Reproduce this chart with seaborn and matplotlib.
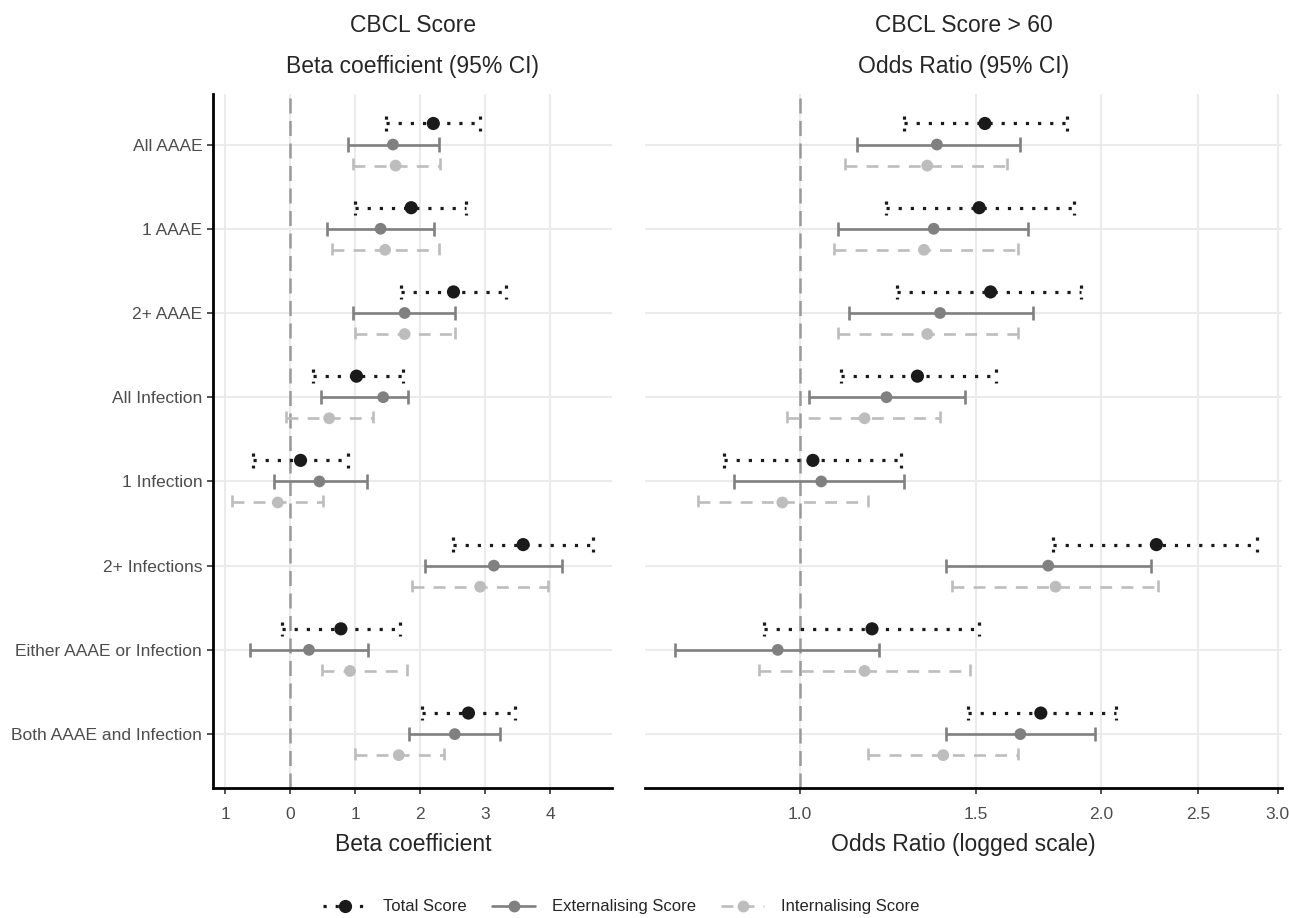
import numpy as np
import pandas as pd
import seaborn as sns
from matplotlib import pyplot as plt
from matplotlib.lines import Line2D

# categories (top to bottom)
categories = ["All AAAE", "1 AAAE", "2+ AAAE", "All Infection", "1 Infection",
              "2+ Infections", "Either AAAE or Infection", "Both AAAE and Infection"]
scores = ["Total Score", "Externalising Score", "Internalising Score"]

# left panel: beta coefficients (95% CI)
beta_total = [2.20, 1.86, 2.51, 1.02, 0.16, 3.58, 0.78, 2.74]
beta_total_lo = [1.48, 0.99, 1.71, 0.35, -0.57, 2.50, -0.13, 2.03]
beta_total_hi = [2.92, 2.71, 3.31, 1.73, 0.89, 4.66, 1.69, 3.45]
beta_ext = [1.58, 1.39, 1.76, 1.43, 0.45, 3.13, 0.29, 2.53]
beta_ext_lo = [0.89, 0.56, 0.96, 0.47, -0.25, 2.08, -0.61, 1.82]
beta_ext_hi = [2.28, 2.21, 2.54, 1.81, 1.18, 4.18, 1.20, 3.22]
beta_int = [1.62, 1.46, 1.76, 0.60, -0.19, 2.92, 0.92, 1.67]
beta_int_lo = [0.96, 0.65, 1.00, -0.07, -0.89, 1.88, 0.49, 0.99]
beta_int_hi = [2.30, 2.29, 2.54, 1.27, 0.51, 3.96, 1.79, 2.36]

# right panel: odds ratios (95% CI)
or_total = [1.53, 1.51, 1.55, 1.31, 1.03, 2.27, 1.18, 1.74]
or_total_lo = [1.27, 1.22, 1.25, 1.10, 0.84, 1.79, 0.92, 1.47]
or_total_hi = [1.85, 1.88, 1.91, 1.57, 1.26, 2.86, 1.51, 2.07]
or_ext = [1.37, 1.36, 1.38, 1.22, 1.05, 1.77, 0.95, 1.66]
or_ext_lo = [1.14, 1.09, 1.12, 1.02, 0.86, 1.40, 0.75, 1.40]
or_ext_hi = [1.66, 1.69, 1.71, 1.46, 1.27, 2.24, 1.20, 1.97]
or_int = [1.34, 1.33, 1.34, 1.16, 0.96, 1.80, 1.16, 1.39]
or_int_lo = [1.11, 1.08, 1.09, 0.97, 0.79, 1.42, 0.91, 1.17]
or_int_hi = [1.61, 1.65, 1.65, 1.38, 1.17, 2.28, 1.48, 1.65]

beta_ticks = [-1, 0, 1, 2, 3, 4]
beta_ticklabels = ["1", "0", "1", "2", "3", "4"]
or_ticks = [1.0, 1.5, 2.0, 2.5, 3.0]
or_ticklabels = ["1.0", "1.5", "2.0", "2.5", "3.0"]


def long_frame(est, lo, hi):
    rows = []
    for s, e, l, h in zip(scores, est, lo, hi):
        for i, c in enumerate(categories):
            rows.append({"Category": c, "idx": i, "Score": s,
                         "est": e[i], "lo": l[i], "hi": h[i]})
    return pd.DataFrame(rows)


df_beta = long_frame([beta_total, beta_ext, beta_int],
                     [beta_total_lo, beta_ext_lo, beta_int_lo],
                     [beta_total_hi, beta_ext_hi, beta_int_hi])
df_or = long_frame([or_total, or_ext, or_int],
                   [or_total_lo, or_ext_lo, or_int_lo],
                   [or_total_hi, or_ext_hi, or_int_hi])

colors = {"Total Score": "#1a1a1a", "Externalising Score": "#808080",
          "Internalising Score": "#bdbdbd"}
styles = {"Total Score": (0, (1, 2.8)), "Externalising Score": "-",
          "Internalising Score": (0, (4.5, 3.5))}
widths = {"Total Score": 2.3, "Externalising Score": 1.9,
          "Internalising Score": 1.9}
offsets = {"Total Score": -0.25, "Externalising Score": 0.0,
           "Internalising Score": 0.25}
sizes = {"Total Score": 90, "Externalising Score": 72, "Internalising Score": 72}

sns.set_theme(style="white")
plt.rcParams['font.family'] = ['Liberation Sans', 'DejaVu Sans']

fig = plt.figure(figsize=(12.89, 9.18), dpi=100)
ax1 = fig.add_axes([0.1655, 0.1416, 0.3095, 0.756])
ax2 = fig.add_axes([0.5004, 0.1416, 0.4941, 0.756])


def draw_panel(ax, df):
    df = df.copy()
    df["y"] = df["idx"] + df["Score"].map(offsets)
    cap = 0.085
    for s in scores:
        d = df[df["Score"] == s]
        kw = dict(color=colors[s], linestyle=styles[s], linewidth=widths[s], zorder=3)
        ax.hlines(d["y"], d["lo"], d["hi"], **kw)
        ax.vlines(d["lo"], d["y"] - cap, d["y"] + cap, **kw)
        ax.vlines(d["hi"], d["y"] - cap, d["y"] + cap, **kw)
        sns.scatterplot(data=d, x="est", y="y", color=colors[s], s=sizes[s],
                        edgecolor="none", ax=ax, zorder=4, legend=False)
    ax.set_ylim(len(categories) - 0.36, -0.6)
    ax.set_yticks(range(len(categories)))
    ax.grid(True, color="#ebebeb", linewidth=1.5, zorder=0)
    ax.set_axisbelow(True)
    for sp in ax.spines.values():
        sp.set_visible(False)
    ax.spines["bottom"].set_visible(True)
    ax.spines["bottom"].set_linewidth(2)
    ax.spines["bottom"].set_color("black")
    ax.tick_params(axis="x", bottom=True, length=4, width=1.2, color="#333333",
                   labelsize=12.5, labelcolor="#4d4d4d", pad=10)
    ax.set_ylabel("")


draw_panel(ax1, df_beta)
ax1.axvline(0, color="#999999", linestyle=(0, (6, 3)), linewidth=1.8, zorder=2)
ax1.set_xlim(-1.18, 4.95)
ax1.set_xticks(beta_ticks)
ax1.set_xticklabels(beta_ticklabels)
ax1.set_yticklabels(categories)
ax1.spines["left"].set_visible(True)
ax1.spines["left"].set_linewidth(2)
ax1.spines["left"].set_color("black")
ax1.tick_params(axis="y", left=True, length=4, width=1.2, color="#333333",
                labelsize=12.5, labelcolor="#4d4d4d", pad=4)
ax1.set_xlabel("Beta coefficient", fontsize=16.5, labelpad=7.5)
ax1.text(0.5, 1.099, "CBCL Score", transform=ax1.transAxes, ha="center",
         va="center", fontsize=16.5)
ax1.text(0.5, 1.039, "Beta coefficient (95% CI)", transform=ax1.transAxes,
         ha="center", va="center", fontsize=16.5)

draw_panel(ax2, df_or)
ax2.set_xscale("log")
ax2.axvline(1.0, color="#999999", linestyle=(0, (6, 3)), linewidth=1.8, zorder=2)
ax2.set_xlim(0.70, 3.03)
ax2.set_xticks(or_ticks)
ax2.set_xticklabels(or_ticklabels)
ax2.xaxis.set_minor_locator(plt.NullLocator())
ax2.set_yticklabels([])
ax2.tick_params(axis="y", left=False)
ax2.set_xlabel("Odds Ratio (logged scale)", fontsize=16.5, labelpad=7.5)
ax2.text(0.5, 1.099, "CBCL Score > 60", transform=ax2.transAxes, ha="center",
         va="center", fontsize=16.5)
ax2.text(0.5, 1.039, "Odds Ratio (95% CI)", transform=ax2.transAxes,
         ha="center", va="center", fontsize=16.5)

handles = [Line2D([0], [0], color=colors[s], linestyle=styles[s], linewidth=widths[s],
                  marker="o", markersize=8.5 if s == "Total Score" else 7.5)
           for s in scores]
fig.legend(handles, scores, loc="center", bbox_to_anchor=(0.482, 0.012), ncol=3,
           frameon=False, fontsize=12, handlelength=2.6, handletextpad=1.0,
           columnspacing=1.5)

fig.savefig("out.png", dpi=100)
